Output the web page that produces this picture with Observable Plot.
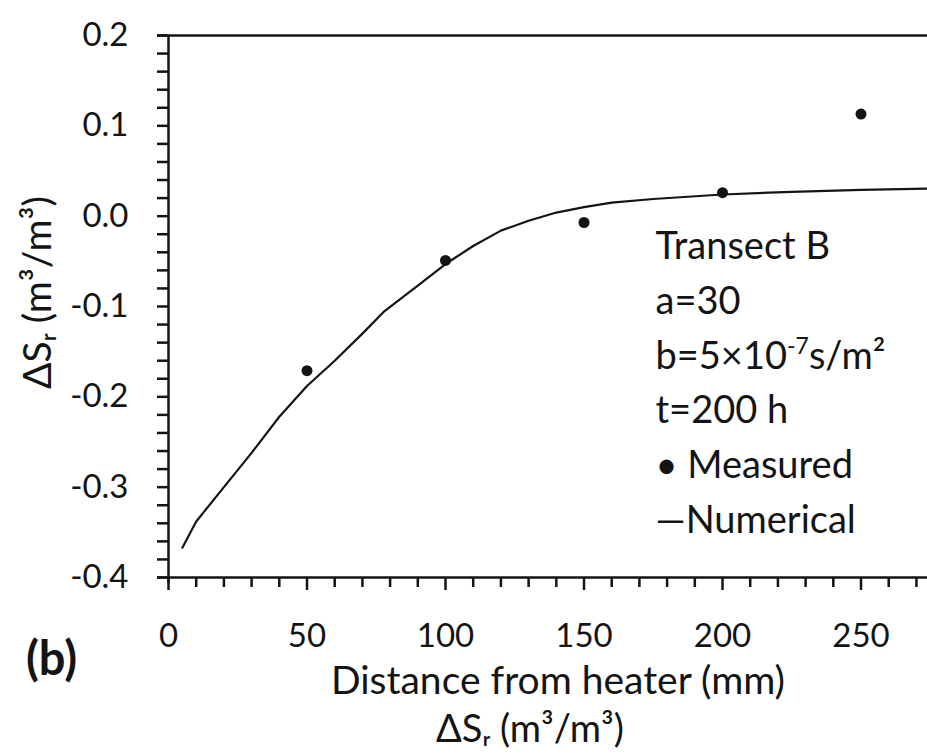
<!DOCTYPE html>
<html><head><meta charset="utf-8">
<script src="https://cdn.jsdelivr.net/npm/d3@7"></script>
<script src="https://cdn.jsdelivr.net/npm/@observablehq/plot@0.6"></script>
<style>body{margin:0;background:#fff} svg{display:block}</style>
</head><body><div id="chart"></div>
<script>
// Measured points
const measuredX = [50, 100, 150, 200, 250];
const measuredY = [-0.171, -0.049, -0.007, 0.026, 0.113];
// Numerical curve
const numericalX = [5, 10, 20, 30, 40, 50, 60, 70, 78, 90, 100, 110, 120, 130, 140, 150, 160, 175, 200, 225, 250, 280];
const numericalY = [-0.367, -0.338, -0.300, -0.262, -0.222, -0.188, -0.160, -0.130, -0.105, -0.077, -0.053, -0.033, -0.016, -0.005, 0.004, 0.010, 0.015, 0.019, 0.024, 0.027, 0.029, 0.031];
// Ticks
const xMajorTicks = [0, 50, 100, 150, 200, 250];
const xMinorTicks = [10, 20, 30, 40, 60, 70, 80, 90, 110, 120, 130, 140, 160, 170, 180, 190, 210, 220, 230, 240, 260, 270];
const yMajorTicks = [-0.4, -0.3, -0.2, -0.1, 0.0, 0.1, 0.2];
const yMinorTicks = [-0.38, -0.36, -0.34, -0.32, -0.28, -0.26, -0.24, -0.22, -0.18, -0.16, -0.14, -0.12, -0.08, -0.06, -0.04, -0.02, 0.02, 0.04, 0.06, 0.08, 0.12, 0.14, 0.16, 0.18];
// Texts
const xLabel = "Distance from heater (mm)";
const yLabel = "ΔSᵣ (m³/m³)";
const panelLabel = "(b)";
const legendText = "Transect B\na=30\nb=5×10⁻⁷s/m²\nt=200 h\n• Measured\n—Numerical";

const measured = measuredX.map((x, i) => ({x, y: measuredY[i]}));
const numerical = numericalX.map((x, i) => ({x, y: numericalY[i]}));

const ink = "#141414";
const fsTick = 33;
const fsText = 38;

const chart = Plot.plot({
  width: 927,
  height: 754,
  marginLeft: 168,
  marginRight: 0,
  marginTop: 35,
  marginBottom: 177,
  style: {fontFamily: "Lato, 'Open Sans', sans-serif", fontSize: fsTick + "px", color: ink, background: "#fff"},
  x: {domain: [0, 274]},
  y: {domain: [-0.4, 0.2]},
  marks: [
    Plot.axisX({ticks: xMinorTicks, tickSize: 10, strokeWidth: 2.5, text: null, label: null}),
    Plot.axisX({ticks: xMajorTicks, tickSize: 13, strokeWidth: 2.5, tickPadding: 33, fontSize: fsTick, label: null, tickFormat: d => String(d)}),
    Plot.axisY({ticks: yMinorTicks, tickSize: 11, strokeWidth: 2.5, text: null, label: null}),
    Plot.axisY({ticks: yMajorTicks, tickSize: 11, strokeWidth: 2.5, tickPadding: 29, fontSize: fsTick, label: null, tickFormat: d => d.toFixed(1)}),
    Plot.ruleY([0.2], {stroke: ink, strokeWidth: 2.5, insetLeft: -11}),
    Plot.ruleY([-0.4], {stroke: ink, strokeWidth: 2.5, insetLeft: -11}),
    Plot.ruleX([0], {stroke: ink, strokeWidth: 2.5, insetBottom: -6}),
    Plot.line(numerical, {x: "x", y: "y", stroke: ink, strokeWidth: 2.2, clip: true}),
    Plot.dot(measured, {x: "x", y: "y", r: 5.5, fill: ink, stroke: null}),
    Plot.text([legendText], {frameAnchor: "top-left", dx: 487, dy: 184, lineAnchor: "top", textAnchor: "start", lineHeight: 1.447, fontSize: fsText, fill: ink}),
    Plot.text([xLabel], {frameAnchor: "bottom", textAnchor: "middle", dx: 10, dy: 116, fontSize: 39, fill: ink}),
    Plot.text([yLabel], {frameAnchor: "bottom", textAnchor: "middle", dx: -18, dy: 164, fontSize: fsText, fill: ink}),
    Plot.text([yLabel], {frameAnchor: "left", textAnchor: "middle", dx: -130, dy: -14, rotate: -90, fontSize: 39, fill: ink}),
    Plot.text([panelLabel], {frameAnchor: "bottom-left", textAnchor: "middle", dx: -117, dy: 97, fontSize: 47, fontWeight: "bold", fill: ink})
  ]
});

// Render the exponent in the legend as a compact superscript
const ns = "http://www.w3.org/2000/svg";
chart.querySelectorAll("tspan").forEach(t => {
  if (t.textContent.includes("⁻⁷")) {
    const [before, after] = t.textContent.split("⁻⁷");
    t.textContent = before;
    const sup = document.createElementNS(ns, "tspan");
    sup.setAttribute("font-size", "23px");
    sup.setAttribute("dy", "-15");
    sup.textContent = "-7";
    const rest = document.createElementNS(ns, "tspan");
    rest.setAttribute("dy", "15");
    rest.textContent = after;
    t.append(sup, rest);
  }
});
document.getElementById("chart").append(chart);
</script>
</body></html>
